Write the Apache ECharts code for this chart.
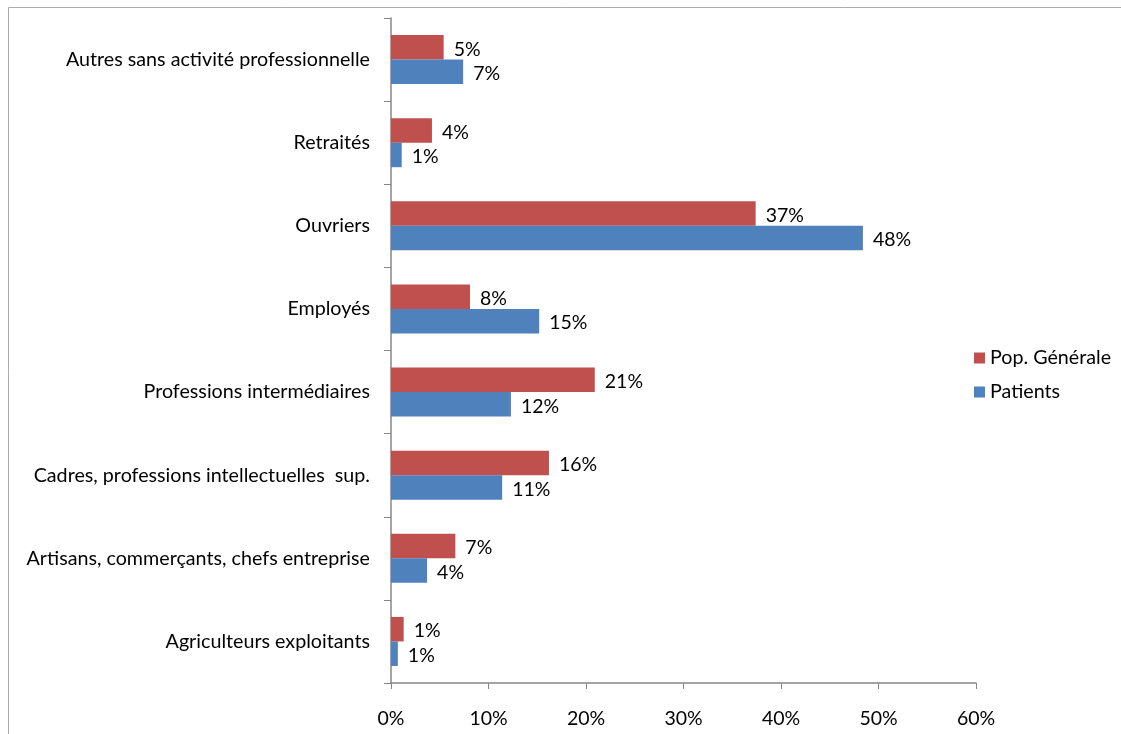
<!DOCTYPE html>
<html>
<head>
<meta charset="utf-8">
<script src="https://cdn.jsdelivr.net/npm/echarts@6/dist/echarts.min.js"></script>
<style>
  html, body { margin: 0; padding: 0; background: #fff; }
  #chart { width: 1121px; height: 734px; }
</style>
</head>
<body>
<div id="chart"></div>
<script>
// Socio-professional categories, listed bottom to top
const categories = [
  'Agriculteurs exploitants',
  'Artisans, commerçants, chefs entreprise',
  'Cadres, professions intellectuelles  sup.',
  'Professions intermédiaires',
  'Employés',
  'Ouvriers',
  'Retraités',
  'Autres sans activité professionnelle'
];

// Shares in percent
const popGenerale = [1.3, 6.6, 16.2, 20.9, 8.1, 37.4, 4.2, 5.4];
const patients    = [0.7, 3.7, 11.4, 12.3, 15.2, 48.4, 1.1, 7.4];

const seriesNames = ['Pop. Générale', 'Patients'];
const xTicks = { min: 0, max: 60, interval: 10 };

const FONT = 'Lato';
const FS = 19.5;
const FS_CAT = 19.7;
const TXT = '#000000';
const AXIS = '#868686';

const chart = echarts.init(document.getElementById('chart'), null, { renderer: 'canvas' });

const labelCfg = {
  show: true,
  position: 'right',
  distance: 10,
  offset: [0, 2],
  color: TXT,
  fontFamily: FONT,
  fontSize: FS,
  formatter: p => Math.round(p.value) + '%'
};

chart.setOption({
  animation: false,
  backgroundColor: '#ffffff',
  textStyle: { fontFamily: FONT },
  graphic: [{
    type: 'rect',
    shape: { x: 8.5, y: 7.5, width: 1200, height: 800 },
    style: { fill: 'none', stroke: '#ababab', lineWidth: 1 },
    silent: true,
    z: -10
  }],
  legend: {
    orient: 'vertical',
    left: 974,
    top: 348,
    padding: 0,
    icon: 'rect',
    itemWidth: 11,
    itemHeight: 11,
    itemGap: 14,
    data: seriesNames,
    textStyle: { color: TXT, fontFamily: FONT, fontSize: FS_CAT }
  },
  grid: { left: 391, top: 18, width: 585, height: 665, containLabel: false },
  xAxis: {
    type: 'value',
    min: xTicks.min,
    max: xTicks.max,
    interval: xTicks.interval,
    axisLine: { show: true, lineStyle: { color: AXIS, width: 1.5 } },
    axisTick: { show: true, length: 6, lineStyle: { color: AXIS } },
    splitLine: { show: false },
    axisLabel: {
      margin: 26,
      color: TXT,
      fontFamily: FONT,
      fontSize: FS,
      formatter: '{value}%'
    }
  },
  yAxis: {
    type: 'category',
    data: categories,
    axisLine: { show: true, lineStyle: { color: AXIS, width: 1.5 } },
    axisTick: { show: true, length: 7, lineStyle: { color: AXIS } },
    axisLabel: {
      margin: 21,
      color: TXT,
      fontFamily: FONT,
      fontSize: FS_CAT
    }
  },
  series: [
    {
      name: seriesNames[0],
      type: 'bar',
      data: popGenerale,
      barGap: '0%',
      barCategoryGap: '41%',
      itemStyle: { color: '#c0504d' },
      label: labelCfg
    },
    {
      name: seriesNames[1],
      type: 'bar',
      data: patients,
      barGap: '0%',
      barCategoryGap: '41%',
      itemStyle: { color: '#4f81bd' },
      label: labelCfg
    }
  ]
});
</script>
</body>
</html>
